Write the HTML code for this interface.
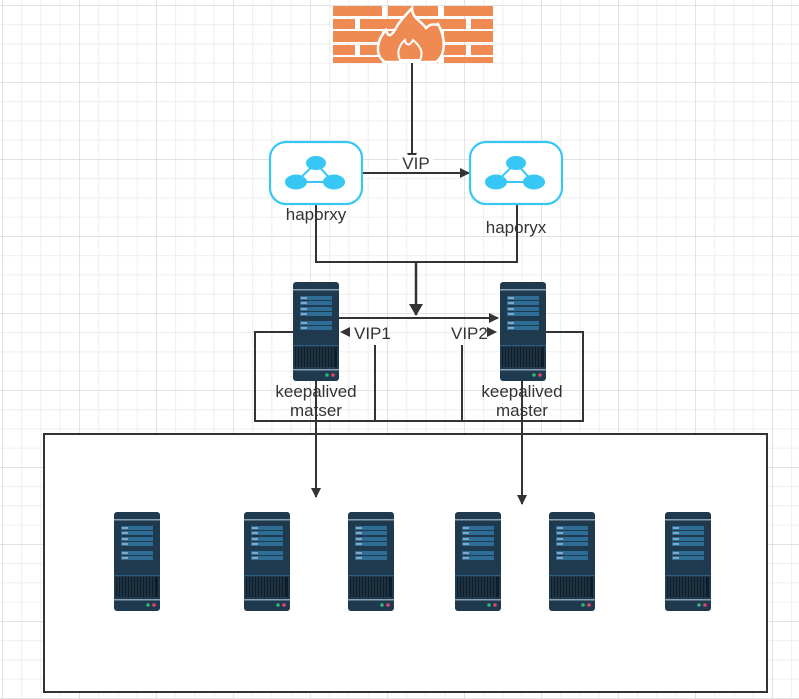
<!DOCTYPE html>
<html><head><meta charset="utf-8"><style>
html,body{margin:0;padding:0;background:#fff}
svg{display:block}
text{font-family:"Liberation Sans",sans-serif;font-size:17px;fill:#333}
</style></head><body>
<svg width="799" height="699" viewBox="0 0 799 699" xmlns="http://www.w3.org/2000/svg">
<defs>
<pattern id="g" x="2" y="5" width="19.25" height="19.25" patternUnits="userSpaceOnUse">
<path d="M0 0H19.25M0 0V19.25" stroke="#e8e8e8" stroke-width="1.5" fill="none"/>
</pattern>
<pattern id="G" x="2" y="5" width="77" height="77" patternUnits="userSpaceOnUse">
<path d="M0 0H77M0 0V77" stroke="#dcdcdc" stroke-width="1.5" fill="none"/>
</pattern>
<marker id="a" markerWidth="10" markerHeight="10" refX="9" refY="5" orient="auto" markerUnits="userSpaceOnUse">
<path d="M0 0L10 5L0 10Z" fill="#333"/></marker>
<marker id="b" markerWidth="12" markerHeight="14" refX="11" refY="7" orient="auto" markerUnits="userSpaceOnUse">
<path d="M0 0L12 7L0 14Z" fill="#333"/></marker>
<g id="srv">
<rect x="0" y="0" width="46" height="99" rx="3" fill="#1f3a4f"/>
<rect x="0" y="7" width="46" height="1.5" fill="#8aa0ae"/>
<rect x="7" y="14" width="32" height="4" fill="#2e6d96"/>
<rect x="7" y="19" width="32" height="4" fill="#2e6d96"/>
<rect x="7" y="25" width="32" height="4" fill="#2e6d96"/>
<rect x="7" y="30" width="32" height="4" fill="#2e6d96"/>
<rect x="7" y="39" width="32" height="4" fill="#2e6d96"/>
<rect x="7" y="44" width="32" height="4" fill="#2e6d96"/>
<rect x="8" y="15.5" width="6" height="1" fill="#dde"/>
<rect x="8" y="20.5" width="6" height="1" fill="#dde"/>
<rect x="8" y="26.5" width="6" height="1" fill="#dde"/>
<rect x="8" y="31.5" width="6" height="1" fill="#dde"/>
<rect x="8" y="40.5" width="6" height="1" fill="#dde"/>
<rect x="8" y="45.5" width="6" height="1" fill="#dde"/>
<rect x="0" y="63" width="46" height="1" fill="#2e5f80"/>
<rect x="2" y="65" width="42" height="20" fill="#0f1e2a"/>
<path d="M4 65V85M7 65V85M10 65V85M13 65V85M16 65V85M19 65V85M22 65V85M25 65V85M28 65V85M31 65V85M34 65V85M37 65V85M40 65V85" stroke="#2a4658" stroke-width="1"/>
<rect x="0" y="87" width="46" height="1.5" fill="#8aa0ae"/>
<circle cx="34" cy="93" r="1.8" fill="#2bb673"/>
<circle cx="40" cy="93" r="1.8" fill="#e0446a"/>
</g>
<g id="hap">
<rect x="0" y="0" width="92" height="62" rx="16" fill="#fff" stroke="#36c7f5" stroke-width="2.2"/>
<path d="M46 21L26 40H63Z" fill="none" stroke="#36c7f5" stroke-width="2"/>
<ellipse cx="46" cy="21" rx="10" ry="7" fill="#36c7f5"/>
<ellipse cx="26" cy="40" rx="11" ry="7.5" fill="#36c7f5"/>
<ellipse cx="64" cy="40" rx="11" ry="7.5" fill="#36c7f5"/>
</g>
</defs>
<rect width="799" height="699" fill="url(#g)"/>
<rect width="799" height="699" fill="url(#G)"/>

<!-- firewall -->
<g fill="#f08a53">
<rect x="333" y="6" width="49" height="10"/><rect x="388" y="6" width="50" height="10"/><rect x="444" y="6" width="49" height="10"/>
<rect x="333" y="19" width="22" height="10"/><rect x="360" y="19" width="50" height="10"/><rect x="416" y="19" width="50" height="10"/><rect x="471" y="19" width="22" height="10"/>
<rect x="333" y="31" width="49" height="11"/><rect x="388" y="31" width="50" height="11"/><rect x="444" y="31" width="49" height="11"/>
<rect x="333" y="45" width="22" height="10"/><rect x="360" y="45" width="50" height="10"/><rect x="416" y="45" width="50" height="10"/><rect x="471" y="45" width="22" height="10"/>
<rect x="333" y="57" width="49" height="6"/><rect x="388" y="57" width="50" height="6"/><rect x="444" y="57" width="49" height="6"/>
</g>
<path d="M385 62C374 55 377 40 386 30C388 38 392 36 396 28C400 20 406 15 412 8C412 18 420 20 426 28C432 22 436 26 438 24C446 38 446 55 436 62Z" fill="#f08a53" stroke="#fff" stroke-width="2.5"/>
<path d="M400 60C396 52 400 44 405 40C406 46 410 46 413 40C420 46 424 52 420 60Z" fill="#f08a53" stroke="#fff" stroke-width="2"/>

<!-- connectors -->
<g stroke="#333" stroke-width="2" fill="none">
<line x1="412" y1="63" x2="412" y2="162" marker-end="url(#a)"/>
<line x1="362" y1="173" x2="469" y2="173" marker-end="url(#a)"/>
<polyline points="316,205 316,262 517,262 517,205"/>
<line x1="416" y1="262" x2="416" y2="315" stroke-width="2.5" marker-end="url(#b)"/>
<line x1="339" y1="318" x2="498" y2="318" marker-end="url(#a)"/>
<polyline points="293,332 255,332 255,421 583,421 583,332 546,332"/>
<line x1="375" y1="345" x2="375" y2="421"/>
<line x1="462" y1="345" x2="462" y2="421"/>
<line x1="316" y1="381" x2="316" y2="497" marker-end="url(#a)"/>
<line x1="522" y1="381" x2="522" y2="504" marker-end="url(#a)"/>
</g>
<rect x="399" y="155" width="34" height="17" fill="#fff"/>
<text x="416" y="169" text-anchor="middle">VIP</text>
<path d="M340 332L350 327V337Z" fill="#333"/>
<path d="M497 332L487 327V337Z" fill="#333"/>
<text x="354" y="339">VIP1</text>
<text x="451" y="339">VIP2</text>

<use href="#hap" x="270" y="142"/>
<use href="#hap" x="470" y="142"/>
<text x="316" y="220" text-anchor="middle">haporxy</text>
<text x="516" y="233" text-anchor="middle">haporyx</text>

<use href="#srv" x="293" y="282"/>
<use href="#srv" x="500" y="282"/>
<text x="316" y="397" text-anchor="middle">keepalived</text>
<text x="316" y="416" text-anchor="middle">matser</text>
<text x="522" y="397" text-anchor="middle">keepalived</text>
<text x="522" y="416" text-anchor="middle">master</text>

<rect x="44" y="434" width="723" height="258" fill="#fff" stroke="#333" stroke-width="2"/>
<line x1="316" y1="435" x2="316" y2="497" stroke="#333" stroke-width="2" marker-end="url(#a)"/>
<line x1="522" y1="435" x2="522" y2="504" stroke="#333" stroke-width="2" marker-end="url(#a)"/>
<use href="#srv" x="114" y="512"/>
<use href="#srv" x="244" y="512"/>
<use href="#srv" x="348" y="512"/>
<use href="#srv" x="455" y="512"/>
<use href="#srv" x="549" y="512"/>
<use href="#srv" x="665" y="512"/>
</svg>
</body></html>
